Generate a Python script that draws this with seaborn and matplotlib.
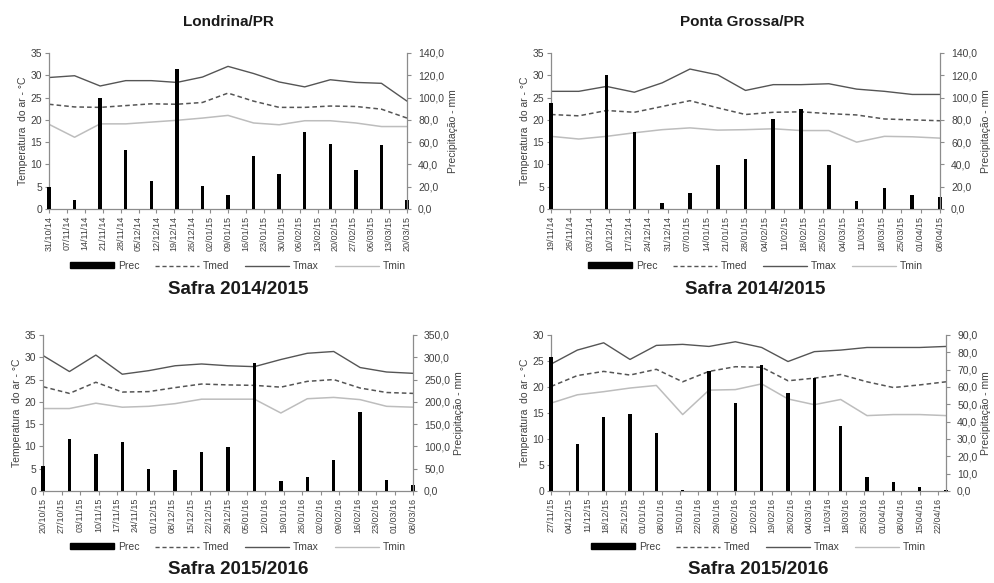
import numpy as np
import pandas as pd
import matplotlib
matplotlib.use("Agg")
import matplotlib.pyplot as plt
import seaborn as sns
from matplotlib.patches import Patch
from matplotlib.lines import Line2D

sns.set_style("white")
plt.rcParams['font.family'] = ['Liberation Sans', 'DejaVu Sans']

# ---------------- data ----------------
titles = ["Londrina/PR", "Ponta Grossa/PR"]
safras = ["Safra 2014/2015", "Safra 2014/2015", "Safra 2015/2016", "Safra 2015/2016"]

# Londrina 2014/2015
lon1_dates = ["31/10/14", "10/11/14", "20/11/14", "30/11/14", "10/12/14", "20/12/14", "30/12/14",
              "09/01/15", "19/01/15", "29/01/15", "08/02/15", "18/02/15", "28/02/15", "10/03/15", "20/03/15"]
lon1_prec = [20, 8.5, 100, 53, 25, 126, 21, 13, 48, 31, 69, 58.5, 35, 57, 8]
lon1_tmax = [29.5, 29.9, 27.6, 28.8, 28.8, 28.4, 29.6, 32.0, 30.4, 28.5, 27.4, 29.0, 28.4, 28.2, 24.2]
lon1_tmed = [23.5, 22.9, 22.8, 23.2, 23.6, 23.5, 23.9, 26.0, 24.2, 22.8, 22.8, 23.1, 23.0, 22.4, 20.4]
lon1_tmin = [19.0, 16.1, 19.1, 19.1, 19.5, 19.9, 20.4, 21.0, 19.3, 18.9, 19.8, 19.8, 19.3, 18.5, 18.5]

# Ponta Grossa 2014/2015
pg1_dates = ["19/11/14", "29/11/14", "09/12/14", "19/12/14", "29/12/14", "08/01/15", "18/01/15",
             "28/01/15", "07/02/15", "17/02/15", "27/02/15", "09/03/15", "19/03/15", "29/03/15", "08/04/15"]
pg1_prec = [95, 0, 120, 69, 5, 14, 39.5, 44.5, 81, 90, 39.5, 7, 18.5, 12.5, 10.5]
pg1_tmax = [26.4, 26.4, 27.5, 26.2, 28.3, 31.4, 30.1, 26.6, 27.9, 27.9, 28.1, 26.9, 26.4, 25.7, 25.7]
pg1_tmed = [21.2, 20.9, 22.1, 21.7, 23.0, 24.3, 22.7, 21.2, 21.7, 21.8, 21.4, 21.1, 20.2, 20.0, 19.8]
pg1_tmin = [16.3, 15.7, 16.3, 17.1, 17.8, 18.2, 17.7, 17.8, 18.0, 17.6, 17.6, 15.0, 16.3, 16.2, 15.9]

# Londrina 2015/2016
lon2_dates = ["20/10/15", "30/10/15", "09/11/15", "19/11/15", "29/11/15", "09/12/15", "19/12/15",
              "29/12/15", "08/01/16", "18/01/16", "28/01/16", "07/02/16", "17/02/16", "27/02/16", "08/03/16"]
lon2_prec = [57, 117, 82, 110, 50, 46, 87, 98.5, 288, 22, 32, 70, 177, 25, 14]
lon2_tmax = [30.4, 26.8, 30.5, 26.2, 27.0, 28.1, 28.5, 28.1, 27.9, 29.5, 30.9, 31.3, 27.7, 26.7, 26.4]
lon2_tmed = [23.4, 21.9, 24.4, 22.2, 22.3, 23.2, 24.0, 23.8, 23.7, 23.3, 24.6, 25.0, 23.1, 22.1, 21.9]
lon2_tmin = [18.5, 18.5, 19.7, 18.8, 19.0, 19.6, 20.6, 20.6, 20.6, 17.5, 20.7, 21.0, 20.5, 19.0, 18.8]

# Ponta Grossa 2015/2016
pg2_dates = ["27/11/15", "07/12/15", "17/12/15", "27/12/15", "06/01/16", "16/01/16", "26/01/16", "05/02/16",
             "15/02/16", "25/02/16", "06/03/16", "16/03/16", "26/03/16", "05/04/16", "15/04/16", "25/04/16"]
pg2_prec = [77.5, 27, 42.6, 44.5, 33.4, 0.4, 69, 50.5, 72.6, 56.4, 65.3, 37.4, 8.3, 5.4, 2.5, 0.5]
pg2_tmax = [24.4, 27.1, 28.5, 25.3, 28.0, 28.2, 27.8, 28.7, 27.6, 24.9, 26.8, 27.1, 27.6, 27.6, 27.6, 27.8]
pg2_tmed = [20.1, 22.2, 23.0, 22.3, 23.4, 21.0, 23.0, 23.9, 23.8, 21.2, 21.7, 22.4, 21.0, 19.9, 20.4, 21.0]
pg2_tmin = [16.9, 18.5, 19.1, 19.8, 20.3, 14.7, 19.4, 19.5, 20.6, 17.7, 16.6, 17.6, 14.5, 14.7, 14.7, 14.5]

# axis settings
temp_max = [35, 35, 35, 30]
prec_max = [140, 140, 350, 90]
prec_step = [20, 20, 50, 10]
span_days = [140, 140, 140, 150]
tick_days = [140, 140, 140, 147]

# ---------------- figure ----------------
W, H = 994, 583
fig = plt.figure(figsize=(W / 100, H / 100), dpi=100)

# pixel rects: x0, x1, ytop, ybottom
rects = [(49, 407, 53, 209), (551, 940, 53, 209), (43, 413, 335, 491), (551, 946, 335, 491)]

panels = [
    (lon1_dates, lon1_prec, lon1_tmax, lon1_tmed, lon1_tmin),
    (pg1_dates, pg1_prec, pg1_tmax, pg1_tmed, pg1_tmin),
    (lon2_dates, lon2_prec, lon2_tmax, lon2_tmed, lon2_tmin),
    (pg2_dates, pg2_prec, pg2_tmax, pg2_tmed, pg2_tmin),
]

C_TMAX = "#555555"
C_TMED = "#555555"
C_TMIN = "#bdbdbd"
C_AX = "#8c8c8c"
C_TXT = "#404040"

for i, (dates, prec, tmax, tmed, tmin) in enumerate(panels):
    x0, x1, yt, yb = rects[i]
    ax = fig.add_axes([x0 / W, 1 - yb / H, (x1 - x0) / W, (yb - yt) / H])
    ax2 = ax.twinx()

    d = pd.to_datetime(pd.Series(dates), format="%d/%m/%y")
    start = d.iloc[0]
    days = (d - start).dt.days.to_numpy()
    df = pd.DataFrame({"day": days, "prec": prec, "tmax": tmax, "tmed": tmed, "tmin": tmin})

    sns.lineplot(data=df, x="day", y="tmin", ax=ax, color=C_TMIN, linewidth=1.1)
    sns.lineplot(data=df, x="day", y="tmax", ax=ax, color=C_TMAX, linewidth=1.0)
    sns.lineplot(data=df, x="day", y="tmed", ax=ax, color=C_TMED, linewidth=1.1, linestyle=(0, (3, 2)))

    sns.barplot(data=df, x="day", y="prec", ax=ax2, native_scale=True, width=0.13,
                color="black", linewidth=0, saturation=1)
    for p in ax2.patches:
        p.set_clip_on(False)

    ax.set_xlim(0, span_days[i])
    ax2.set_xlim(0, span_days[i])
    ax.set_ylim(0, temp_max[i])
    ax2.set_ylim(0, prec_max[i])

    # x ticks weekly
    tdays = np.arange(0, tick_days[i] + 1, 7)
    tlabels = [(start + pd.Timedelta(days=int(t))).strftime("%d/%m/%y") for t in tdays]
    ax.set_xticks(tdays)
    ax.set_xticklabels(tlabels, rotation=90, fontsize=6.5, color=C_TXT)

    ax.set_yticks(np.arange(0, temp_max[i] + 1, 5))
    ax.set_yticklabels([str(v) for v in np.arange(0, temp_max[i] + 1, 5)], fontsize=7.5, color=C_TXT)
    rt = np.arange(0, prec_max[i] + 0.1, prec_step[i])
    ax2.set_yticks(rt)
    ax2.set_yticklabels([f"{v:.1f}".replace(".", ",") for v in rt], fontsize=7.5, color=C_TXT)

    ax.set_xlabel("")
    ax2.set_xlabel("")
    ax.set_ylabel("Temperatura  do ar - °C", fontsize=7.5, color=C_TXT, labelpad=1.5)
    ax2.set_ylabel("Precipitação - mm", fontsize=7.5, color=C_TXT, labelpad=2.5)

    for a in (ax, ax2):
        a.grid(False)
        a.set_facecolor("none")
        a.spines["top"].set_visible(False)
        for s in a.spines.values():
            s.set_color(C_AX)
            s.set_linewidth(0.9)
    ax.spines["right"].set_visible(False)
    ax2.spines["left"].set_visible(False)
    ax2.spines["bottom"].set_visible(False)
    ax.tick_params(axis="both", which="major", length=3, width=0.8, color=C_AX, pad=2, bottom=True, left=True)
    ax2.tick_params(axis="y", length=3, width=0.8, color=C_AX, pad=5, right=True)

    # legend
    cx = (x0 + x1) / 2 + 10
    ly = 266 if i < 2 else 547
    handles = [
        Patch(facecolor="black", edgecolor="black", label="Prec"),
        Line2D([], [], color=C_TMED, linewidth=1.0, linestyle=(0, (3, 2)), label="Tmed"),
        Line2D([], [], color=C_TMAX, linewidth=1.0, label="Tmax"),
        Line2D([], [], color=C_TMIN, linewidth=1.0, label="Tmin"),
    ]
    fig.legend(handles=handles, loc="center", bbox_to_anchor=(cx / W, 1 - ly / H), ncol=4,
               frameon=False, fontsize=7.5, handlelength=4.2, handleheight=0.5, columnspacing=1.5,
               handletextpad=0.4, labelcolor=C_TXT)

    sy = 289 if i < 2 else 569
    fig.text(cx / W, 1 - sy / H, safras[i], ha="center", va="center", fontsize=13.5,
             fontweight="bold", color="#1a1a1a")

fig.text(228 / W, 1 - 22 / H, titles[0], ha="center", va="center", fontsize=11,
         fontweight="bold", color="#1a1a1a")
fig.text(742 / W, 1 - 22 / H, titles[1], ha="center", va="center", fontsize=11,
         fontweight="bold", color="#1a1a1a")

fig.savefig("out.png", dpi=100)
